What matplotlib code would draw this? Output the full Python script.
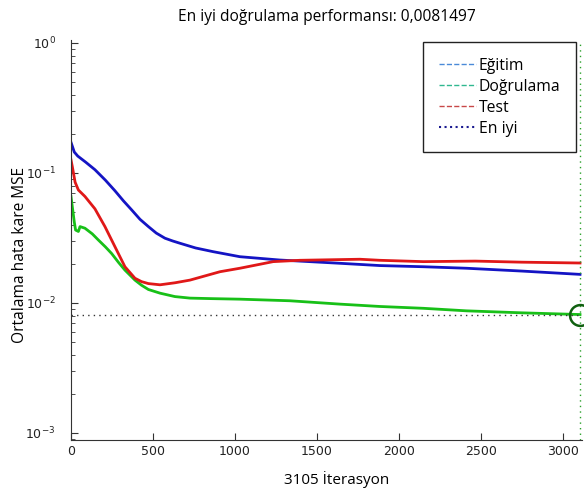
import matplotlib
matplotlib.use("Agg")
import matplotlib.pyplot as plt
from matplotlib.lines import Line2D

# Values (iteration, MSE)
train_iter = [0, 5, 20, 41, 90, 146, 210, 268, 320, 370, 421, 472, 520, 573, 620, 665, 760, 868, 1030, 1274, 1396, 1640, 1884, 2150, 2413, 2750, 3105]
train_mse = [0.172, 0.165, 0.145, 0.135, 0.121, 0.106, 0.088, 0.073, 0.061, 0.052, 0.0440, 0.0387, 0.0345, 0.0315, 0.0300, 0.0288, 0.0265, 0.0248, 0.0227, 0.0214, 0.0210, 0.0202, 0.0194, 0.0190, 0.0185, 0.0176, 0.0166]

val_iter = [0, 8, 20, 28, 45, 55, 85, 130, 167, 210, 248, 290, 329, 390, 430, 472, 543, 634, 726, 860, 1030, 1335, 1640, 1884, 2150, 2413, 2750, 3105]
val_mse = [0.066, 0.055, 0.042, 0.0364, 0.0355, 0.0387, 0.0376, 0.0340, 0.0305, 0.0270, 0.0240, 0.0205, 0.0179, 0.0150, 0.0137, 0.0127, 0.0119, 0.0112, 0.0109, 0.0108, 0.0107, 0.0104, 0.0098, 0.0094, 0.0091, 0.0087, 0.0084, 0.0081497]

test_iter = [0, 8, 25, 45, 85, 146, 207, 268, 329, 390, 430, 472, 543, 634, 726, 909, 1030, 1233, 1396, 1762, 1884, 2150, 2467, 2750, 3105]
test_mse = [0.126, 0.112, 0.085, 0.074, 0.066, 0.053, 0.0387, 0.0271, 0.0190, 0.0155, 0.0146, 0.0141, 0.0138, 0.0143, 0.0150, 0.0174, 0.0185, 0.0208, 0.0213, 0.0217, 0.0213, 0.0208, 0.0210, 0.0206, 0.0203]

best_epoch = 3105
best_perf = 0.0081497

legend_labels = ["Eğitim", "Doğrulama", "Test", "En iyi"]

fig = plt.figure(figsize=(5.84, 4.96), dpi=100)
ax = fig.add_axes([71 / 584, 56 / 496, (582 - 71) / 584, (440 - 40) / 496])

ax.semilogy(train_iter, train_mse, color="#1414c4", lw=2)
ax.semilogy(val_iter, val_mse, color="#18c018", lw=2)
ax.semilogy(test_iter, test_mse, color="#e01818", lw=2)

# best performance markers
ax.axhline(best_perf, color="#333333", ls=(0, (1, 3)), lw=1)
ax.axvline(best_epoch, color="#2aa02a", ls=(0, (1, 3)), lw=1)
ax.plot([best_epoch], [best_perf], "o", ms=15, mfc="none", mec="#106010", mew=1.8, clip_on=False)

ax.set_xlim(0, 3117)
ax.set_ylim(10 ** -3.054, 10 ** 0.023)
ax.set_xticks([0, 500, 1000, 1500, 2000, 2500, 3000])

ax.spines["top"].set_visible(False)
ax.spines["right"].set_visible(False)
ax.spines["left"].set_color("#333333")
ax.spines["bottom"].set_color("#333333")
ax.tick_params(which="both", direction="in", labelsize=9, colors="#333333", labelcolor="#222222")
ax.tick_params(which="major", length=5)
ax.tick_params(which="minor", length=3)
ax.tick_params(axis="y", which="major", pad=11)
ax.tick_params(axis="x", which="minor", bottom=False)

ax.set_title("En iyi doğrulama performansı: 0,0081497", fontsize=11.2, family="Open Sans", pad=14)
ax.set_xlabel("3105 İterasyon", fontsize=11, family="Open Sans")
ax.xaxis.set_label_coords(0.519, -0.078)
ax.set_ylabel("Ortalama hata kare MSE", fontsize=11.2, family="Open Sans")
ax.yaxis.set_label_coords(-0.085, 0.4625)

handles = [
    Line2D([], [], color="#4a8ad8", ls="--", lw=1),
    Line2D([], [], color="#30b890", ls="--", lw=1),
    Line2D([], [], color="#c84848", ls="--", lw=1),
    Line2D([], [], color="#1a1a90", ls=":", lw=1.5),
]
leg = ax.legend(handles, legend_labels, loc="upper right", bbox_to_anchor=(0.988, 0.995),
                prop={"family": "Open Sans", "size": 11.3}, fancybox=False,
                edgecolor="#222222", framealpha=1, handlelength=2.4, handletextpad=0.15,
                labelspacing=0.32, borderpad=1.0, borderaxespad=0)
leg.get_frame().set_linewidth(1)

fig.savefig("out.png", dpi=100)
